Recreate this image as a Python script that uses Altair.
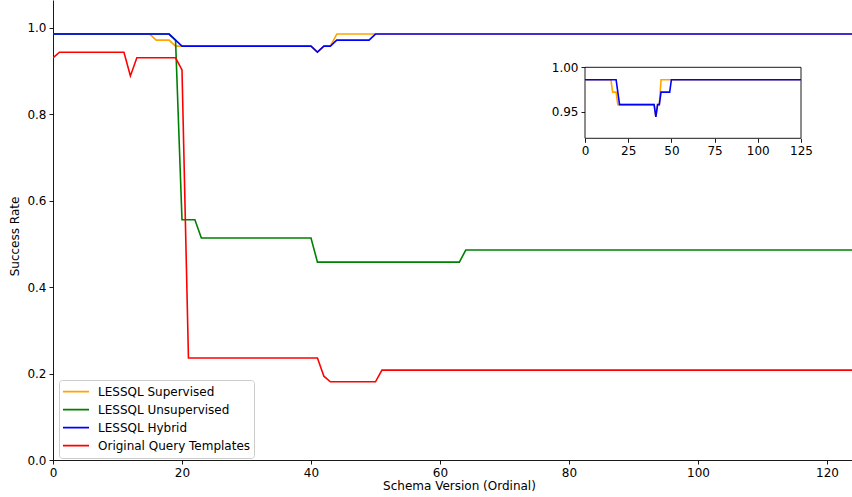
import altair as alt
import pandas as pd

# ---------------- data ----------------
series_names = ["LESSQL Supervised", "LESSQL Unsupervised", "LESSQL Hybrid", "Original Query Templates"]
series_colors = ["orange", "green", "blue", "red"]

sup_x = [0, 15, 16, 18, 19, 40, 41, 42, 43, 44, 125]
sup_y = [0.986, 0.986, 0.972, 0.972, 0.958, 0.958, 0.944, 0.958, 0.958, 0.986, 0.986]

uns_x = [0, 18, 19, 20, 22, 23, 40, 41, 63, 64, 125]
uns_y = [0.986, 0.986, 0.972, 0.556, 0.556, 0.514, 0.514, 0.458, 0.458, 0.486, 0.486]

hyb_x = [0, 18, 19, 20, 40, 41, 42, 43, 44, 49, 50, 125]
hyb_y = [0.986, 0.986, 0.972, 0.958, 0.958, 0.944, 0.958, 0.958, 0.972, 0.972, 0.986, 0.986]

orig_x = [0, 1, 11, 12, 13, 19, 20, 21, 41, 42, 43, 50, 51, 125]
orig_y = [0.931, 0.944, 0.944, 0.889, 0.931, 0.931, 0.903, 0.236, 0.236, 0.194, 0.181, 0.181, 0.208, 0.208]

main_x_ticks = [0, 20, 40, 60, 80, 100, 120]
main_y_ticks = [0.0, 0.2, 0.4, 0.6, 0.8, 1.0]
inset_x_ticks = [0, 25, 50, 75, 100, 125]
inset_y_ticks = [0.95, 1.00]

# ---------------- tables ----------------
def frame(name, xs, ys):
    return pd.DataFrame({"version": xs, "rate": ys, "series": name})

frames = {
    series_names[0]: frame(series_names[0], sup_x, sup_y),
    series_names[1]: frame(series_names[1], uns_x, uns_y),
    series_names[2]: frame(series_names[2], hyb_x, hyb_y),
    series_names[3]: frame(series_names[3], orig_x, orig_y),
}

FONT = "DejaVu Sans"
FS = 12
PLOT_W, PLOT_H = 799, 460

color = alt.Color(
    "series:N",
    scale=alt.Scale(domain=series_names, range=series_colors),
    legend=alt.Legend(
        title=None,
        orient="none",
        legendX=6,
        legendY=380,
        symbolType="stroke",
        symbolSize=676,
        symbolStrokeWidth=1.6,
        labelFontSize=FS,
        labelFont=FONT,
        labelColor="black",
        labelOffset=8,
        padding=3,
        rowPadding=0,
        clipHeight=17.3,
        fillColor="rgba(255,255,255,0.8)",
        strokeColor="#cccccc",
        cornerRadius=3,
    ),
)

x_main = alt.X(
    "version:Q",
    scale=alt.Scale(domain=[0, 123.88], nice=False, zero=False),
    axis=alt.Axis(values=main_x_ticks, title="Schema Version (Ordinal)", format="d",
                  titleX=406, titlePadding=2),
)
y_main = alt.Y(
    "rate:Q",
    scale=alt.Scale(domain=[0, 1.0648], nice=False, zero=False),
    axis=alt.Axis(values=main_y_ticks, format=".1f", title="Success Rate",
                  titleX=-35, titleY=236, titleAngle=-90, titleBaseline="alphabetic",
                  titleAlign="center"),
)

main_layers = [
    alt.Chart(frames[n]).mark_line(strokeWidth=1.6, clip=True).encode(x=x_main, y=y_main, color=color)
    for n in series_names
]
main = alt.layer(*main_layers)

# inset
inset_box = pd.DataFrame({"x0": [0], "x1": [125], "y0": [0.92], "y1": [1.0]})
x_in_scale = alt.Scale(domain=[0, 125], range=[532, 748], nice=False, zero=False)
y_in_scale = alt.Scale(domain=[0.92, 1.0], range=[138.3, 67.3], nice=False, zero=False)
x_in_axis = alt.Axis(values=inset_x_ticks, format="d", title=None, orient="bottom",
                     offset=-321.7, domain=False)
y_in_axis = alt.Axis(values=inset_y_ticks, format=".2f", title=None, orient="left",
                     offset=-532, domain=False)

box = alt.Chart(inset_box).mark_rect(fill="white", stroke="black", strokeWidth=0.9).encode(
    x=alt.X("x0:Q", scale=x_in_scale, axis=x_in_axis),
    x2="x1:Q",
    y=alt.Y("y0:Q", scale=y_in_scale, axis=y_in_axis),
    y2="y1:Q",
)
inset_layers = [box]
for n in [series_names[0], series_names[2]]:
    inset_layers.append(
        alt.Chart(frames[n]).mark_line(strokeWidth=1.6, clip=False).encode(
            x=alt.X("version:Q", scale=x_in_scale, axis=x_in_axis),
            y=alt.Y("rate:Q", scale=y_in_scale, axis=y_in_axis),
            color=color,
        )
    )
inset = alt.layer(*inset_layers)

chart = (
    alt.layer(main, inset)
    .resolve_scale(x="independent", y="independent", color="shared")
    .properties(
        width=PLOT_W,
        height=PLOT_H,
        autosize=alt.AutoSizeParams(type="none"),
        padding={"left": 53, "top": 0, "right": 0, "bottom": 37},
        background="white",
    )
    .configure_view(stroke=None)
    .configure_axis(
        grid=False,
        domainColor="black",
        domainWidth=0.9,
        tickColor="black",
        tickWidth=0.9,
        tickSize=4,
        labelColor="black",
        labelFont=FONT,
        labelFontSize=FS,
        labelPadding=3,
        titleFont=FONT,
        titleFontSize=FS,
        titleFontWeight="normal",
        titleColor="black",
        labelFlush=False,
        labelOverlap=False,
    )
)

chart.save("out.html", embed_options={"renderer": "svg", "actions": False})
